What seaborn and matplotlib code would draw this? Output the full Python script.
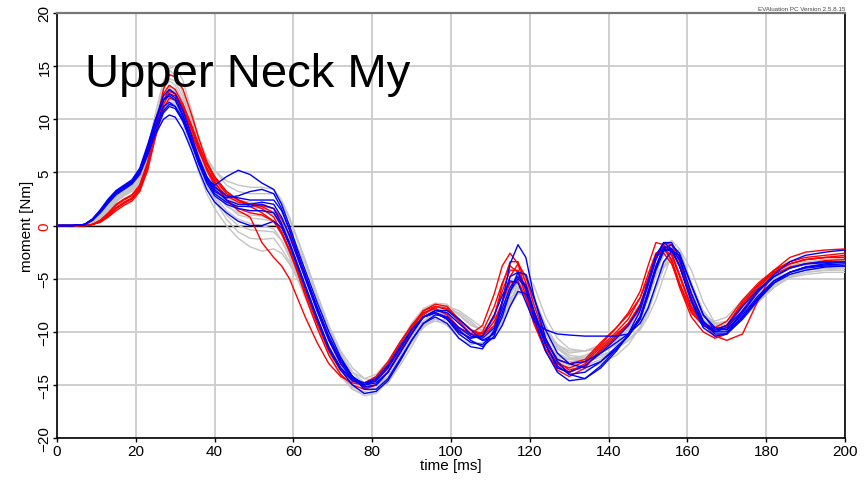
import numpy as np
import pandas as pd
import matplotlib
matplotlib.use("Agg")
import matplotlib.pyplot as plt
import seaborn as sns

# =========================
# Data
# =========================

time_ms = [0, 4, 7, 9, 11, 13, 15, 17, 19, 21, 23, 25, 27, 28.5,
           30, 32, 34, 36, 38, 40, 43, 46, 49, 52, 55,
           57, 59, 61, 63, 66, 69, 72, 75, 78, 81, 84, 87, 90, 93, 96,
           99, 102, 105, 108, 111, 113, 115, 117, 119, 121,
           124, 127, 130, 134, 138, 142, 145, 148, 150, 152,
           154, 156, 158, 161, 164, 167, 170, 174, 178, 182, 186, 190, 195, 200]

gray_curves = {
    "g01": [0, 0, 0.05, 0.3, 0.9, 1.7, 2.5, 3.0, 3.5, 4.4, 6.4, 9.2, 11.8, 12.8,
            12.6, 11.2, 9.0, 6.6, 4.6, 3.2, 1.8, 1.2, 1.0, 0.9, 0.4,
            -0.8, -2.6, -4.6, -6.6, -9.4, -11.8, -13.6, -14.6, -15.0, -14.6, -13.2, -11.4, -9.6, -8.3, -7.9,
            -8.6, -9.8, -10.6, -10.2, -8.8, -7.2, -5.8, -5.4, -6.8, -8.8,
            -11.2, -12.4, -12.6, -12.2, -11.6, -10.8, -9.8, -7.8, -5.8, -3.8,
            -2.7, -2.8, -4.4, -7.6, -9.2, -9.6, -9.2, -7.6, -6.0, -4.8, -4.0, -3.7, -3.6, -3.6],
    "g02": [0, 0, 0.03, 0.2, 0.7, 1.4, 2.2, 2.8, 3.3, 4.2, 6.2, 9.4, 13.0, 14.8,
            15.0, 13.6, 11.0, 8.2, 5.8, 4.0, 2.6, 2.0, 1.7, 1.6, 1.3,
            0.4, -1.0, -2.8, -4.8, -7.8, -10.6, -12.8, -14.4, -15.2, -15.2, -14.2, -12.4, -10.4, -9.0, -8.2,
            -8.0, -8.8, -9.8, -10.6, -10.0, -8.6, -7.0, -5.8, -5.8, -7.4,
            -10.2, -12.0, -12.6, -12.6, -12.0, -11.2, -10.4, -9.0, -7.6, -5.6,
            -3.6, -2.6, -3.0, -5.6, -8.2, -9.6, -9.8, -8.2, -6.4, -5.0, -4.4, -4.2, -4.0, -4.0],
    "g03": [0, 0, 0.06, 0.4, 1.1, 2.0, 2.9, 3.5, 4.0, 5.0, 7.0, 9.8, 12.4, 13.2,
            12.6, 11.0, 9.4, 7.6, 6.2, 5.2, 4.2, 3.8, 3.6, 3.6, 3.4,
            2.4, 0.8, -1.2, -3.2, -6.4, -9.4, -11.8, -13.4, -14.4, -14.6, -13.8, -12.2, -10.4, -9.0, -8.4,
            -8.2, -9.0, -10.0, -10.6, -9.6, -8.0, -6.4, -5.4, -5.8, -7.6,
            -9.8, -11.2, -12.0, -11.8, -11.2, -10.6, -9.8, -8.2, -6.4, -4.4,
            -2.6, -2.2, -3.4, -6.6, -8.8, -9.6, -9.4, -8.2, -6.6, -5.2, -4.4, -4.0, -3.8, -3.7],
    "g04": [0, 0, 0.05, 0.3, 0.9, 1.6, 2.4, 2.9, 3.3, 4.3, 6.2, 8.8, 11.2, 12.0,
            11.4, 9.6, 7.4, 5.0, 3.0, 1.6, 0.0, -1.2, -2.0, -2.4, -2.2,
            -2.6, -3.6, -5.0, -6.6, -9.4, -12.0, -14.0, -15.2, -15.6, -15.4, -14.2, -12.4, -10.6, -9.4, -8.8,
            -9.4, -10.6, -11.2, -11.0, -9.8, -8.4, -6.8, -6.2, -6.8, -8.4,
            -10.8, -12.2, -12.8, -12.6, -12.0, -11.2, -10.4, -8.6, -6.8, -4.8,
            -3.4, -3.0, -3.8, -6.8, -9.0, -9.9, -10.0, -8.6, -7.0, -5.8, -4.8, -4.4, -4.2, -4.0],
    "g05": [0, 0, 0.02, 0.2, 0.6, 1.2, 2.2, 3.0, 3.6, 4.4, 6.0, 8.2, 10.6, 11.8,
            12.4, 11.8, 10.2, 8.2, 6.2, 4.6, 2.8, 2.0, 1.8, 1.8, 1.6,
            0.8, -0.4, -2.0, -3.6, -6.6, -9.6, -12.0, -13.8, -15.0, -15.4, -14.8, -13.2, -11.4, -9.4, -8.2,
            -7.8, -8.2, -9.0, -10.0, -10.2, -9.2, -7.6, -6.0, -5.6, -6.8,
            -9.4, -11.4, -12.4, -12.6, -12.2, -11.6, -10.8, -9.8, -8.6, -7.0,
            -4.8, -2.8, -2.2, -4.2, -7.2, -9.2, -9.8, -8.8, -7.0, -5.6, -4.6, -4.2, -4.0, -4.0],
    "g06": [0, 0, 0.05, 0.4, 1.0, 1.9, 2.8, 3.3, 3.8, 4.8, 7.0, 10.0, 12.8, 13.6,
            13.2, 11.6, 9.2, 6.8, 5.0, 3.8, 2.8, 2.4, 2.2, 2.0, 1.6,
            0.4, -1.2, -3.0, -5.0, -8.0, -10.6, -12.6, -13.8, -14.4, -14.0, -12.8, -11.0, -9.2, -7.8, -7.3,
            -7.4, -8.4, -9.4, -9.8, -9.2, -7.6, -5.8, -4.6, -5.0, -6.8,
            -9.4, -11.4, -12.2, -12.4, -11.8, -10.8, -9.8, -8.2, -6.4, -4.4,
            -2.8, -2.6, -3.8, -6.8, -8.6, -9.0, -8.6, -7.0, -5.6, -4.4, -3.8, -3.5, -3.4, -3.3],
    "g07": [0, 0, 0.04, 0.3, 0.8, 1.5, 2.4, 2.9, 3.4, 4.4, 6.4, 9.4, 12.2, 13.0,
            12.4, 10.6, 8.4, 6.0, 4.2, 2.8, 1.4, 0.6, 0.2, 0.0, -0.3,
            -1.4, -3.0, -4.8, -6.6, -9.4, -12.0, -14.0, -15.4, -16.0, -15.8, -14.6, -12.8, -11.0, -9.6, -8.8,
            -8.9, -9.8, -10.8, -11.2, -10.6, -9.2, -7.6, -6.4, -6.6, -8.2,
            -10.6, -12.4, -13.2, -13.2, -12.6, -11.6, -10.8, -9.6, -8.2, -6.0,
            -4.0, -3.2, -3.6, -6.2, -8.8, -10.0, -10.2, -8.8, -7.2, -5.8, -4.8, -4.4, -4.2, -4.2],
    "g08": [0, 0, 0.05, 0.3, 1.0, 1.8, 2.7, 3.2, 3.7, 4.7, 6.8, 10.0, 13.0, 13.8,
            13.6, 12.0, 10.0, 8.0, 6.4, 5.2, 3.8, 3.2, 3.0, 3.0, 3.0,
            2.2, 0.6, -1.4, -3.4, -6.8, -9.8, -12.2, -13.8, -14.8, -15.0, -14.2, -12.6, -10.8, -9.0, -8.0,
            -7.6, -8.0, -8.8, -9.6, -9.6, -8.6, -7.2, -5.4, -4.6, -5.6,
            -8.6, -10.6, -11.6, -11.8, -11.6, -11.0, -10.2, -8.8, -7.0, -4.6,
            -2.2, -1.4, -2.2, -5.4, -8.0, -9.4, -9.6, -8.6, -6.8, -5.4, -4.4, -3.9, -3.6, -3.6],
    "g09": [0, 0, 0.05, 0.3, 0.9, 1.6, 2.5, 3.1, 3.6, 4.5, 6.4, 9.0, 11.6, 12.2,
            11.6, 10.0, 7.8, 5.6, 3.8, 2.6, 1.0, 0.0, -0.4, -0.5, -0.6,
            -1.4, -2.8, -4.6, -6.4, -9.2, -11.8, -13.6, -14.8, -15.2, -14.8, -13.6, -11.8, -10.0, -8.6, -8.2,
            -8.6, -9.6, -10.4, -10.6, -9.6, -7.8, -5.8, -4.4, -4.8, -6.6,
            -9.6, -11.6, -12.4, -12.8, -12.4, -11.6, -10.8, -9.6, -7.8, -5.6,
            -3.6, -2.6, -2.8, -5.6, -8.2, -9.2, -9.4, -8.0, -6.4, -5.0, -4.0, -3.6, -3.4, -3.4],
    "g10": [0, 0, 0.06, 0.4, 1.0, 1.8, 2.6, 3.0, 3.4, 4.3, 6.2, 8.8, 11.4, 12.4,
            12.0, 10.4, 8.2, 6.2, 4.4, 3.2, 2.2, 1.6, 1.4, 1.4, 1.0,
            -0.2, -1.8, -3.8, -5.8, -8.8, -11.4, -13.2, -14.4, -14.8, -14.6, -13.6, -11.8, -10.0, -8.6, -8.0,
            -7.8, -8.8, -9.8, -10.4, -9.8, -8.4, -6.6, -5.2, -5.4, -7.2,
            -10.0, -12.0, -12.6, -12.4, -11.6, -10.4, -9.6, -8.4, -6.8, -4.6,
            -2.4, -2.0, -2.8, -6.0, -8.4, -9.2, -9.0, -7.4, -5.8, -4.6, -3.8, -3.4, -3.2, -3.2],
    "g11": [0, 0, 0.04, 0.3, 0.9, 1.6, 2.5, 3.1, 3.7, 4.8, 7.2, 10.6, 13.6, 14.6,
            14.2, 12.4, 10.2, 7.8, 5.6, 3.8, 2.0, 1.0, 0.7, 0.6, 0.4,
            -0.8, -2.4, -4.4, -6.4, -9.2, -11.8, -13.6, -14.6, -14.8, -14.4, -13.2, -11.4, -9.6, -8.2, -7.7,
            -7.6, -8.4, -9.2, -10.0, -9.8, -8.8, -7.4, -6.0, -5.8, -7.2,
            -9.6, -11.2, -11.8, -11.8, -11.4, -10.8, -10.2, -9.0, -7.8, -5.8,
            -3.8, -3.2, -3.8, -6.8, -9.0, -9.6, -9.4, -7.8, -6.0, -4.8, -4.0, -3.7, -3.6, -3.6],
    "g12": [0, 0, 0.04, 0.3, 0.8, 1.5, 2.3, 2.8, 3.2, 4.0, 5.8, 8.4, 10.8, 11.6,
            11.4, 10.0, 8.0, 5.8, 3.8, 2.4, 0.6, -0.6, -1.2, -1.3, -1.2,
            -2.2, -3.4, -5.0, -6.8, -9.6, -12.2, -14.2, -15.4, -15.8, -15.6, -14.4, -12.6, -10.8, -9.4, -9.0,
            -9.2, -10.2, -11.0, -11.2, -10.4, -9.0, -7.4, -6.2, -6.4, -8.0,
            -10.8, -12.6, -13.4, -13.6, -13.0, -12.2, -11.2, -9.6, -7.8, -5.8,
            -3.8, -3.0, -3.8, -6.8, -9.2, -10.2, -10.2, -8.8, -7.2, -5.8, -4.9, -4.6, -4.4, -4.4],
}

red_curves = {
    "r01": [0, 0, 0.0, 0.1, 0.4, 0.9, 1.6, 2.1, 2.5, 3.4, 5.6, 9.2, 12.8, 14.2,
            14.0, 12.8, 10.6, 8.2, 6.0, 4.6, 3.2, 2.4, 2.0, 1.9, 1.6,
            0.6, -0.8, -2.8, -4.8, -8.0, -10.8, -13.0, -14.4, -15.2, -15.0, -13.8, -12.0, -10.0, -8.4, -7.6,
            -7.9, -9.0, -10.2, -10.4, -8.4, -6.2, -4.2, -4.2, -6.0, -8.4,
            -11.2, -13.0, -13.8, -13.0, -11.4, -10.0, -8.8, -6.8, -4.6, -2.6,
            -2.2, -3.2, -5.4, -8.0, -9.4, -9.8, -9.4, -7.4, -5.6, -4.2, -3.6, -3.2, -3.0, -2.8],
    "r02": [0, 0, 0.0, 0.1, 0.3, 0.8, 1.4, 1.9, 2.3, 3.2, 5.2, 8.4, 11.4, 12.4,
            12.2, 10.8, 8.8, 7.0, 5.4, 4.2, 2.4, 1.4, 0.8, -1.6, -3.0,
            -3.8, -5.0, -6.8, -8.6, -11.0, -13.0, -14.2, -14.8, -15.0, -14.4, -13.2, -11.6, -9.8, -8.6, -8.2,
            -8.8, -10.0, -10.6, -10.0, -7.6, -5.4, -3.8, -4.4, -6.6, -9.0,
            -11.8, -13.6, -14.2, -13.4, -11.6, -10.2, -9.2, -7.6, -5.4, -3.0,
            -2.2, -2.8, -4.8, -7.8, -9.2, -9.6, -9.0, -7.0, -5.4, -4.2, -3.4, -3.0, -2.8, -2.6],
    "r03": [0, 0, 0.0, 0.1, 0.4, 1.0, 1.7, 2.2, 2.6, 3.6, 5.6, 8.8, 11.8, 12.8,
            12.4, 11.0, 9.2, 7.2, 5.4, 4.0, 2.8, 2.2, 2.0, 1.8, 1.2,
            0.0, -1.6, -3.6, -5.8, -8.8, -11.6, -13.6, -14.6, -15.0, -14.6, -13.4, -11.6, -9.6, -8.2, -7.8,
            -8.4, -9.6, -10.2, -9.4, -6.4, -3.8, -2.6, -3.6, -6.2, -8.8,
            -11.6, -13.0, -13.4, -12.8, -11.2, -9.6, -8.2, -6.2, -3.8, -1.6,
            -1.8, -3.4, -5.8, -8.6, -10.0, -10.6, -10.2, -8.0, -6.0, -4.6, -3.9, -3.6, -3.3, -3.2],
    "r04": [0, 0, 0.0, 0.1, 0.5, 1.1, 1.9, 2.4, 2.8, 3.8, 6.0, 9.4, 12.4, 13.2,
            12.8, 11.4, 9.6, 7.6, 5.8, 4.4, 3.0, 2.4, 2.0, 1.6, 0.8,
            -0.6, -2.4, -4.4, -6.6, -9.6, -12.2, -14.0, -15.0, -15.4, -15.0, -13.8, -11.8, -9.8, -8.0, -7.4,
            -7.6, -8.8, -9.8, -10.4, -9.4, -7.2, -4.8, -3.6, -4.8, -7.4,
            -10.6, -12.8, -13.6, -13.2, -11.8, -10.4, -9.4, -7.8, -5.6, -3.2,
            -1.8, -2.6, -4.6, -7.6, -9.4, -9.8, -9.6, -7.6, -5.8, -4.4, -3.6, -3.2, -3.0, -3.0],
    "r05": [0, 0, 0.0, 0.1, 0.4, 0.9, 1.6, 2.1, 2.5, 3.4, 5.4, 8.4, 11.0, 12.0,
            11.8, 10.8, 9.2, 7.4, 5.8, 4.6, 3.2, 2.4, 1.8, 1.2, 0.4,
            -0.8, -2.4, -4.2, -6.2, -9.0, -11.8, -13.6, -14.6, -15.0, -14.2, -12.8, -11.0, -9.4, -8.2, -7.8,
            -8.4, -9.6, -10.2, -10.4, -9.0, -7.2, -5.4, -5.2, -6.8, -9.2,
            -11.8, -13.4, -13.8, -13.2, -11.8, -10.4, -9.2, -7.4, -5.4, -3.0,
            -1.6, -1.8, -3.4, -6.8, -9.2, -10.4, -10.8, -10.2, -7.0, -4.2, -3.0, -2.5, -2.3, -2.2],
    "r06": [0, 0, 0.0, 0.1, 0.5, 1.2, 2.0, 2.5, 2.9, 3.8, 5.8, 9.0, 11.8, 12.6,
            12.4, 11.2, 9.4, 7.2, 5.2, 3.8, 2.4, 1.6, 1.2, 1.0, 0.4,
            -0.6, -2.2, -4.2, -6.2, -9.2, -11.8, -13.6, -14.6, -14.8, -14.2, -13.0, -11.2, -9.4, -8.0, -7.6,
            -7.8, -8.8, -9.8, -10.2, -8.6, -5.6, -3.4, -3.4, -5.4, -8.0,
            -11.0, -12.6, -13.0, -12.6, -11.0, -9.6, -8.4, -6.8, -5.0, -2.8,
            -2.6, -3.6, -5.6, -8.2, -9.4, -9.8, -9.4, -7.2, -5.6, -4.4, -3.6, -3.2, -3.0, -3.0],
}

blue_curves = {
    "b01": [0, 0, 0.1, 0.6, 1.4, 2.4, 3.2, 3.7, 4.2, 5.2, 7.2, 9.4, 11.2, 11.6,
            11.2, 9.8, 7.8, 5.8, 4.4, 3.8, 4.6, 5.2, 4.8, 4.0, 3.4,
            2.0, 0.0, -2.2, -4.2, -7.2, -10.0, -12.4, -14.2, -15.4, -15.4, -14.4, -12.6, -10.8, -9.2, -8.4,
            -8.6, -9.8, -10.8, -11.4, -10.4, -7.2, -3.6, -1.8, -3.0, -6.6,
            -10.6, -12.8, -14.0, -14.4, -13.4, -11.8, -10.2, -8.0, -5.6, -3.2,
            -1.6, -1.6, -3.0, -6.4, -9.0, -10.2, -10.2, -8.8, -7.0, -5.4, -4.4, -3.9, -3.6, -3.4],
    "b02": [0, 0, 0.1, 0.5, 1.3, 2.2, 3.0, 3.5, 4.0, 5.0, 6.8, 8.6, 10.0, 10.4,
            10.2, 9.0, 7.2, 5.2, 3.4, 2.2, 1.2, 0.4, 0.0, 0.0, 0.4,
            -0.2, -1.8, -3.8, -5.8, -8.8, -11.6, -13.6, -15.0, -15.8, -15.6, -14.6, -12.8, -10.8, -9.2, -8.6,
            -9.2, -10.6, -11.4, -11.6, -9.8, -7.2, -4.8, -4.4, -6.0, -8.6,
            -11.8, -13.8, -14.6, -14.4, -13.2, -11.6, -10.4, -8.8, -6.6, -4.2,
            -2.4, -2.2, -3.2, -6.4, -9.0, -10.0, -10.0, -8.6, -6.8, -5.4, -4.6, -4.2, -3.9, -3.8],
    "b03": [0, 0, 0.1, 0.5, 1.2, 2.1, 2.9, 3.4, 3.9, 4.8, 6.6, 8.8, 10.6, 11.2,
            11.0, 9.8, 8.0, 6.0, 4.4, 3.2, 2.6, 2.8, 3.2, 3.4, 3.0,
            1.6, -0.4, -2.6, -4.6, -7.6, -10.4, -12.6, -14.2, -15.0, -14.6, -13.4, -11.6, -9.8, -8.6, -8.2,
            -8.8, -10.0, -10.6, -10.4, -8.4, -6.6, -5.2, -5.4, -7.2, -9.0,
            -9.8, -10.2, -10.3, -10.4, -10.4, -10.4, -10.2, -8.6, -6.2, -3.8,
            -2.0, -2.2, -3.8, -7.0, -9.2, -9.8, -9.4, -7.6, -6.0, -4.8, -4.0, -3.6, -3.5, -3.4],
    "b04": [0, 0, 0.1, 0.6, 1.4, 2.3, 3.1, 3.6, 4.1, 5.2, 7.4, 10.0, 12.2, 12.8,
            12.4, 10.8, 8.6, 6.4, 4.6, 3.4, 2.4, 2.0, 2.0, 2.2, 2.0,
            0.8, -1.0, -3.0, -5.0, -8.0, -10.8, -13.0, -14.4, -15.2, -15.0, -13.8, -12.0, -10.2, -8.6, -8.0,
            -8.2, -9.2, -10.2, -10.8, -10.2, -8.6, -6.2, -4.4, -4.6, -6.8,
            -9.8, -12.0, -13.0, -13.4, -12.8, -11.6, -10.4, -8.6, -6.4, -4.0,
            -2.2, -1.8, -2.6, -5.6, -8.4, -9.6, -9.8, -8.2, -6.2, -4.6, -3.4, -2.8, -2.5, -2.3],
    "b05": [0, 0, 0.1, 0.6, 1.5, 2.5, 3.3, 3.8, 4.3, 5.4, 7.6, 10.0, 11.8, 12.2,
            11.8, 10.2, 8.0, 5.8, 4.0, 2.8, 2.0, 1.6, 1.4, 1.4, 1.2,
            0.0, -1.8, -3.8, -5.8, -8.8, -11.6, -13.4, -14.6, -15.0, -14.4, -13.2, -11.4, -9.8, -8.6, -8.2,
            -8.8, -10.2, -11.0, -11.2, -10.0, -8.2, -6.2, -5.0, -5.8, -8.2,
            -11.2, -13.2, -14.0, -13.8, -12.8, -11.4, -10.4, -8.8, -6.6, -4.0,
            -2.2, -2.4, -3.8, -7.2, -9.6, -10.4, -10.2, -8.6, -6.8, -5.2, -4.4, -3.9, -3.7, -3.6],
    "b06": [0, 0, 0.1, 0.5, 1.3, 2.2, 3.0, 3.5, 4.0, 5.0, 7.0, 9.2, 10.8, 11.4,
            11.2, 10.0, 8.2, 6.2, 4.6, 3.6, 2.8, 2.6, 2.4, 2.4, 2.4,
            1.4, -0.4, -2.6, -4.6, -7.8, -10.6, -12.8, -14.2, -15.0, -14.8, -13.8, -12.0, -10.2, -8.6, -8.0,
            -8.0, -8.8, -9.8, -10.8, -10.6, -9.4, -7.6, -6.2, -6.4, -8.0,
            -10.8, -12.6, -13.0, -12.8, -12.0, -11.0, -10.2, -9.2, -7.8, -5.6,
            -3.4, -2.4, -2.8, -5.6, -8.4, -9.8, -9.8, -8.4, -6.6, -5.2, -4.4, -4.0, -3.8, -3.8],
    "b07": [0, 0, 0.1, 0.6, 1.4, 2.3, 3.1, 3.6, 4.1, 5.1, 7.2, 9.8, 11.8, 12.4,
            12.0, 10.4, 8.2, 6.0, 4.2, 3.0, 2.2, 1.8, 1.8, 2.0, 1.6,
            0.2, -1.6, -3.6, -5.6, -8.6, -11.4, -13.4, -14.4, -14.8, -14.4, -13.2, -11.6, -9.8, -8.6, -8.2,
            -8.6, -9.6, -10.4, -10.6, -9.6, -7.8, -5.8, -4.8, -5.6, -8.0,
            -11.2, -13.4, -13.8, -13.2, -12.0, -10.6, -9.4, -7.6, -5.2, -2.8,
            -1.6, -2.2, -3.8, -7.0, -9.4, -10.0, -9.6, -8.0, -6.2, -4.8, -4.0, -3.6, -3.4, -3.4],
}

x_ticks = list(range(0, 201, 20))
y_ticks = list(range(-20, 21, 5))


def to_long(curves: dict, group: str) -> pd.DataFrame:
    frames = []
    for name, vals in curves.items():
        assert len(vals) == len(time_ms), name
        frames.append(pd.DataFrame({"time": time_ms, "moment": vals,
                                    "curve": name, "group": group}))
    return pd.concat(frames, ignore_index=True)


df = pd.concat([to_long(gray_curves, "gray"),
                to_long(red_curves, "red"),
                to_long(blue_curves, "blue")], ignore_index=True)

# =========================
# Plot
# =========================
sns.set_style("white")
plt.rcParams["font.family"] = ["Liberation Sans", "DejaVu Sans"]
plt.rcParams["text.color"] = "black"
plt.rcParams["axes.labelcolor"] = "black"
plt.rcParams["xtick.color"] = "black"
plt.rcParams["ytick.color"] = "black"

fig = plt.figure(figsize=(8.64, 4.81), dpi=100)
ax = fig.add_axes([0.066, 0.087, 0.912, 0.884])

colors = {"gray": "#c4c4c4", "red": "#ff0000", "blue": "#0000ff"}
for i, grp in enumerate(["gray", "red", "blue"]):
    sub = df[df["group"] == grp]
    sns.lineplot(data=sub, x="time", y="moment", units="curve", estimator=None,
                 color=colors[grp], linewidth=1.0, legend=False, ax=ax,
                 zorder=3 + i)

ax.axhline(0, color="black", linewidth=1.0, zorder=2)

ax.set_xlim(0, 200)
ax.set_ylim(-20, 20)
ax.set_xticks(x_ticks)
ax.set_yticks(y_ticks)
ax.grid(True, color="#cccccc", linewidth=1.3, zorder=0)
ax.set_axisbelow(True)

ax.tick_params(axis="both", labelsize=11, length=3, width=1, color="black",
               direction="out", pad=1, labelcolor="black")
ax.tick_params(axis="x", bottom=True)
ax.tick_params(axis="y", left=True)
for lab in ax.get_yticklabels():
    lab.set_rotation(90)
    lab.set_va("center")

# zero label in red
zero_idx = y_ticks.index(0)
ax.get_yticklabels()[zero_idx].set_color("red")
ax.yaxis.get_major_ticks()[zero_idx].tick1line.set_color("red")

ax.set_xlabel("time [ms]", fontsize=11, labelpad=0)
ax.set_ylabel("moment [Nm]", fontsize=11, labelpad=2)
ax.yaxis.set_label_coords(-0.029, 0.5)

for side in ["left", "bottom", "right"]:
    ax.spines[side].set_color("black")
    ax.spines[side].set_linewidth(1.2)
ax.spines["top"].set_color("#777777")
ax.spines["top"].set_linewidth(1.6)

ax.text(7, 14.3, "Upper Neck My", fontsize=34, va="center", ha="left",
        color="black", zorder=10)
fig.text(0.978, 0.975, "EVAluation PC Version 2.5.8.15", fontsize=4.5,
         ha="right", va="bottom", color="#444444")

fig.savefig("out.png", dpi=100)
